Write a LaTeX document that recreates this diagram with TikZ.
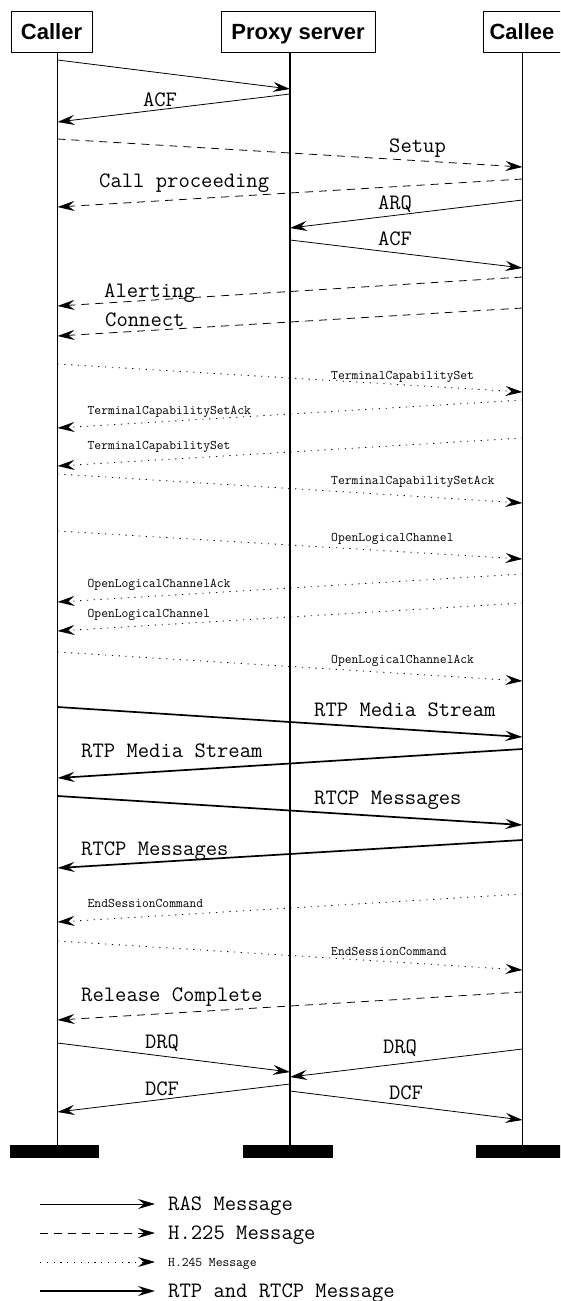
\documentclass[tikz,border=0pt]{standalone}
\usepackage{fontspec}
\setmainfont{Liberation Sans}
\usetikzlibrary{arrows.meta}
\newcommand\Msg[6]{\coordinate (#1a) at (#3,#4); \coordinate (#1b) at (#5,#6); \draw[#2] (#1a) -- (#1b);}
\begin{document}
\begin{tikzpicture}[x=1pt,y=-1pt,
  hdr/.style={draw, line width=0.8pt, inner sep=0pt, font=\fontsize{22}{22}\selectfont\bfseries, minimum height=41pt, text height=16pt, text depth=0pt},
  bar/.style={fill=black, draw=none, inner sep=0pt, minimum height=13pt},
  life/.style={line width=1.2pt},
  ras/.style={line width=0.8pt, -{Stealth[length=17pt,width=10pt,inset=6pt]}},
  h225/.style={ras, dash pattern=on 8pt off 6pt},
  h245/.style={ras, dash pattern=on 1.2pt off 5.6pt},
  rtp/.style={ras, line width=1.7pt},
  big/.style={inner sep=0pt, font=\ttfamily\fontsize{22}{22}\selectfont, text height=13pt, text depth=0pt},
  small/.style={inner sep=0pt, font=\ttfamily\fontsize{13.2}{13.2}\selectfont, text height=8pt, text depth=0pt}]
\useasboundingbox (0,0) rectangle (560,1301);
\clip (0,0) rectangle (560,1301);
% headers
\node[hdr, minimum width=81pt] (caller) at (51.5,31.5) {Caller};
\node[hdr, minimum width=154pt] (proxy) at (298,31.5) {Proxy server};
\node[hdr, minimum width=78pt] (callee) at (522,31.5) {Callee};
% bottom bars
\node[bar, minimum width=89pt] (bc) at (54.5,1151.5) {};
\node[bar, minimum width=90pt] (bp) at (288,1151.5) {};
\node[bar, minimum width=92pt] (be) at (522,1151.5) {};
% lifelines
\coordinate (ct) at (57.5,52); \coordinate (cb) at (57.5,1145);
\coordinate (pt) at (290,52); \coordinate (pb) at (290,1145);
\coordinate (et) at (522.5,52); \coordinate (eb) at (522.5,1145);
\draw[life] (ct) -- (cb);
\draw[life] (pt) -- (pb);
\draw[life] (et) -- (eb);
% messages
\Msg{m1}{ras}{57.5}{60}{290}{89}
\Msg{m2}{ras}{290}{94}{57.5}{122}
\node[big] (l2) at (160,100) {ACF};
\Msg{m3}{h225}{57.5}{139}{522.5}{167}
\node[big, anchor=west] (l3) at (389,146) {Setup};
\Msg{m4}{h225}{522.5}{179}{57.5}{207}
\node[big, anchor=west] (l4) at (99,181) {Call proceeding};
\Msg{m5}{ras}{522.5}{200}{290}{228}
\node[big] (l5) at (395,203) {ARQ};
\Msg{m6}{ras}{290}{240}{522.5}{268}
\node[big] (l6) at (395,239) {ACF};
\Msg{m7}{h225}{522.5}{277}{57.5}{306}
\node[big, anchor=west] (l7) at (104,291) {Alerting};
\Msg{m8}{h225}{522.5}{308}{57.5}{336}
\node[big, anchor=west] (l8) at (105,320) {Connect};
\Msg{m9}{h245}{57.5}{364}{522.5}{392}
\node[small, anchor=west] (l9) at (331,375) {TerminalCapabilitySet};
\Msg{m10}{h245}{522.5}{400}{57.5}{428}
\node[small, anchor=west] (l10) at (87.5,410) {TerminalCapabilitySetAck};
\Msg{m11}{h245}{522.5}{438}{57.5}{466}
\node[small, anchor=west] (l11) at (87.5,445) {TerminalCapabilitySet};
\Msg{m12}{h245}{57.5}{474}{522.5}{503}
\node[small, anchor=west] (l12) at (331,480) {TerminalCapabilitySetAck};
\Msg{m13}{h245}{57.5}{531}{522.5}{559}
\node[small, anchor=west] (l13) at (331,537) {OpenLogicalChannel};
\Msg{m14}{h245}{522.5}{574}{57.5}{602}
\node[small, anchor=west] (l14) at (87.5,583) {OpenLogicalChannelAck};
\Msg{m15}{h245}{522.5}{603}{57.5}{631}
\node[small, anchor=west] (l15) at (87.5,613) {OpenLogicalChannel};
\Msg{m16}{h245}{57.5}{652}{522.5}{681}
\node[small, anchor=west] (l16) at (331,659) {OpenLogicalChannelAck};
\Msg{m17}{rtp}{57.5}{707}{522.5}{737}
\node[big, anchor=west] (l17) at (314,710) {RTP Media Stream};
\Msg{m18}{rtp}{522.5}{749}{57.5}{778}
\node[big, anchor=west] (l18) at (81,751) {RTP Media Stream};
\Msg{m19}{rtp}{57.5}{796}{522.5}{825}
\node[big, anchor=west] (l19) at (314,798) {RTCP Messages};
\Msg{m20}{rtp}{522.5}{840}{57.5}{868}
\node[big, anchor=west] (l20) at (81,849) {RTCP Messages};
\Msg{m21}{h245}{522.5}{894}{57.5}{922}
\node[small, anchor=west] (l21) at (87.5,903) {EndSessionCommand};
\Msg{m22}{h245}{57.5}{941}{522.5}{970}
\node[small, anchor=west] (l22) at (331,951) {EndSessionCommand};
\Msg{m23}{h225}{522.5}{992}{57.5}{1020}
\node[big, anchor=west] (l23) at (81,995) {Release Complete};
\Msg{m24}{ras}{57.5}{1043}{290}{1072}
\node[big] (l24) at (162,1042) {DRQ};
\Msg{m25}{ras}{522.5}{1049}{290}{1077}
\node[big] (l25) at (400,1047) {DRQ};
\Msg{m26}{ras}{290}{1084}{57.5}{1112}
\node[big] (l26) at (162,1089) {DCF};
\Msg{m27}{ras}{290}{1091}{522.5}{1120}
\node[big] (l27) at (406,1093) {DCF};
% legend
\Msg{g1}{ras}{40}{1204}{155}{1204}
\node[big, anchor=west] (t1) at (168,1204) {RAS Message};
\Msg{g2}{h225}{40}{1233}{155}{1233}
\node[big, anchor=west] (t2) at (168,1233) {H.225 Message};
\Msg{g3}{h245}{40}{1262}{155}{1262}
\node[small, anchor=west] (t3) at (168,1262) {H.245 Message};
\Msg{g4}{rtp}{40}{1291}{155}{1291}
\node[big, anchor=west] (t4) at (168,1291) {RTP and RTCP Message};
\end{tikzpicture}
\end{document}
